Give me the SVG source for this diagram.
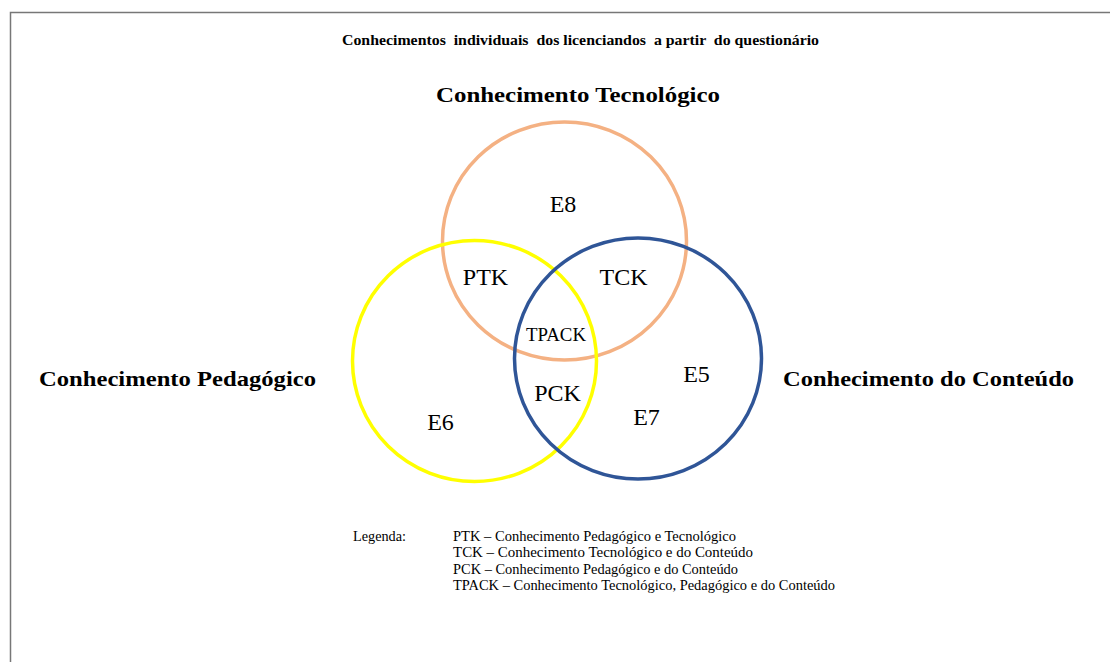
<svg xmlns="http://www.w3.org/2000/svg" width="1110" height="662" viewBox="0 0 1110 662">
<style>
text{font-family:"Liberation Serif","Times New Roman",serif;fill:#000}
.b{font-weight:bold}
.t{font-size:15px}
.h{font-size:22px}
.l{font-size:24px}
.g{font-size:14px}
.c{fill:none;stroke-width:3.5}
</style>
<rect width="1110" height="662" fill="#fff"/>
<g id="frame" stroke="#777" stroke-width="1.5" fill="none">
<path d="M10.5 662V12.5H1110"/>
</g>
<text class="b t" x="342" y="45" textLength="477" lengthAdjust="spacingAndGlyphs" xml:space="preserve">Conhecimentos  individuais  dos licenciandos  a partir  do questionário</text>
<g id="tecnologico">
<ellipse class="c" cx="564.5" cy="241" rx="122" ry="119" stroke="#F4B183"/>
<text class="b h" x="436" y="102" textLength="284" lengthAdjust="spacingAndGlyphs">Conhecimento Tecnológico</text>
<text class="l" x="563" y="212" text-anchor="middle">E8</text>
</g>
<g id="pedagogico">
<ellipse class="c" cx="474.5" cy="361" rx="122" ry="120.5" stroke="#FFFF00"/>
<text class="b h" x="39" y="386" textLength="277" lengthAdjust="spacingAndGlyphs">Conhecimento Pedagógico</text>
<text class="l" x="440.5" y="430" text-anchor="middle">E6</text>
</g>
<g id="conteudo">
<ellipse class="c" cx="638" cy="358.5" rx="123.5" ry="120.5" stroke="#2F5597"/>
<text class="b h" x="783" y="386" textLength="291" lengthAdjust="spacingAndGlyphs">Conhecimento do Conteúdo</text>
<text class="l" x="696.5" y="382" text-anchor="middle">E5</text>
<text class="l" x="646.5" y="425" text-anchor="middle">E7</text>
</g>
<g id="intersections">
<text class="l" x="485.5" y="285" text-anchor="middle">PTK</text>
<text class="l" x="623.5" y="285" text-anchor="middle">TCK</text>
<text x="526" y="341" textLength="60" lengthAdjust="spacingAndGlyphs" style="font-size:18px">TPACK</text>
<text class="l" x="557.5" y="401" text-anchor="middle">PCK</text>
</g>
<g id="legenda">
<text class="g" x="353" y="541" textLength="53" lengthAdjust="spacingAndGlyphs">Legenda:</text>
<text class="g" x="453" y="541" textLength="283" lengthAdjust="spacingAndGlyphs">PTK – Conhecimento Pedagógico e Tecnológico</text>
<text class="g" x="453" y="557" textLength="300" lengthAdjust="spacingAndGlyphs">TCK – Conhecimento Tecnológico e do Conteúdo</text>
<text class="g" x="453" y="573.5" textLength="285" lengthAdjust="spacingAndGlyphs">PCK – Conhecimento Pedagógico e do Conteúdo</text>
<text class="g" x="453" y="590" textLength="382" lengthAdjust="spacingAndGlyphs">TPACK – Conhecimento Tecnológico, Pedagógico e do Conteúdo</text>
</g>
</svg>
